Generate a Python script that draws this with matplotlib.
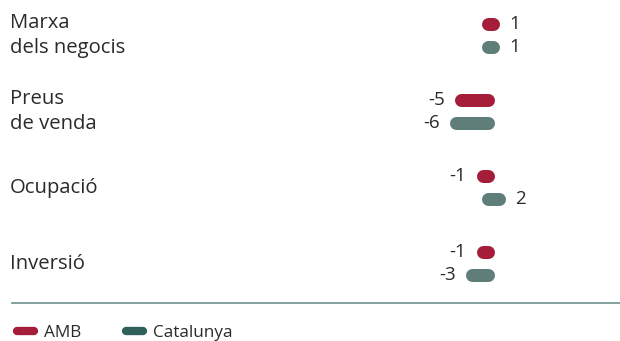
import matplotlib.pyplot as plt
from matplotlib.lines import Line2D

plt.rcParams["font.family"] = ["Open Sans", "DejaVu Sans"]

# Data
categories = ["Marxa\ndels negocis", "Preus\nde venda", "Ocupació", "Inversió"]
amb = [1, -5, -1, -1]
catalunya = [1, -6, 2, -3]

series_names = ["AMB", "Catalunya"]
bar_colors = ["#a51d39", "#5f7d79"]
legend_colors = ["#a51d39", "#2f615a"]
text_color = "#2a2a2a"

W, H, DPI = 620, 341, 100
fig = plt.figure(figsize=(W / DPI, H / DPI), dpi=DPI)
ax = fig.add_axes([0, 0, 1, 1])

# pixel mapping: zero at x=488 px, 5.4 px per unit; group every 76 px
zero_px, unit_px = 488, 5.4
ax.set_xlim(-zero_px / unit_px, (W - zero_px) / unit_px)
first_px, step_px = 35.5, 76
ax.set_ylim((H - first_px) / step_px, -first_px / step_px)
ax.axis("off")

offset = 11.5 / step_px
bar_lw = 13 * 72 / DPI  # 13 px thick
cap_pt = bar_lw / 2

for i, cat in enumerate(categories):
    ax.text(-zero_px / unit_px + 10 / unit_px, i, cat, ha="left", va="center",
            fontsize=14.6, color=text_color, linespacing=1.3)
    for vals, col, dy in ((amb, bar_colors[0], -offset), (catalunya, bar_colors[1], offset)):
        v = vals[i]
        y = i + dy
        ax.plot([0, v], [y, y], color=col, lw=bar_lw, solid_capstyle="round")
        gap = cap_pt + 7
        if v >= 0:
            ax.annotate(str(v), (v, y), xytext=(gap, 0), textcoords="offset points",
                        ha="left", va="center", fontsize=13.5, color=text_color)
        else:
            ax.annotate(str(v), (v, y), xytext=(-gap, 0), textcoords="offset points",
                        ha="right", va="center", fontsize=13.5, color=text_color)

# separator line
sep_y = (303 - first_px) / step_px
ax.plot([-zero_px / unit_px + 12 / unit_px, (W - zero_px) / unit_px], [sep_y, sep_y],
        color="#6f918c", lw=1.2)

handles = [Line2D([], [], color=c, lw=6, solid_capstyle="round") for c in legend_colors]
fig.legend(handles, series_names, loc="lower left", bbox_to_anchor=(0.002, -0.045),
           ncol=2, frameon=False, fontsize=12.3, handlelength=1.0,
           handletextpad=0.6, columnspacing=2.6, labelcolor=text_color)

fig.savefig("out.png", dpi=DPI)
